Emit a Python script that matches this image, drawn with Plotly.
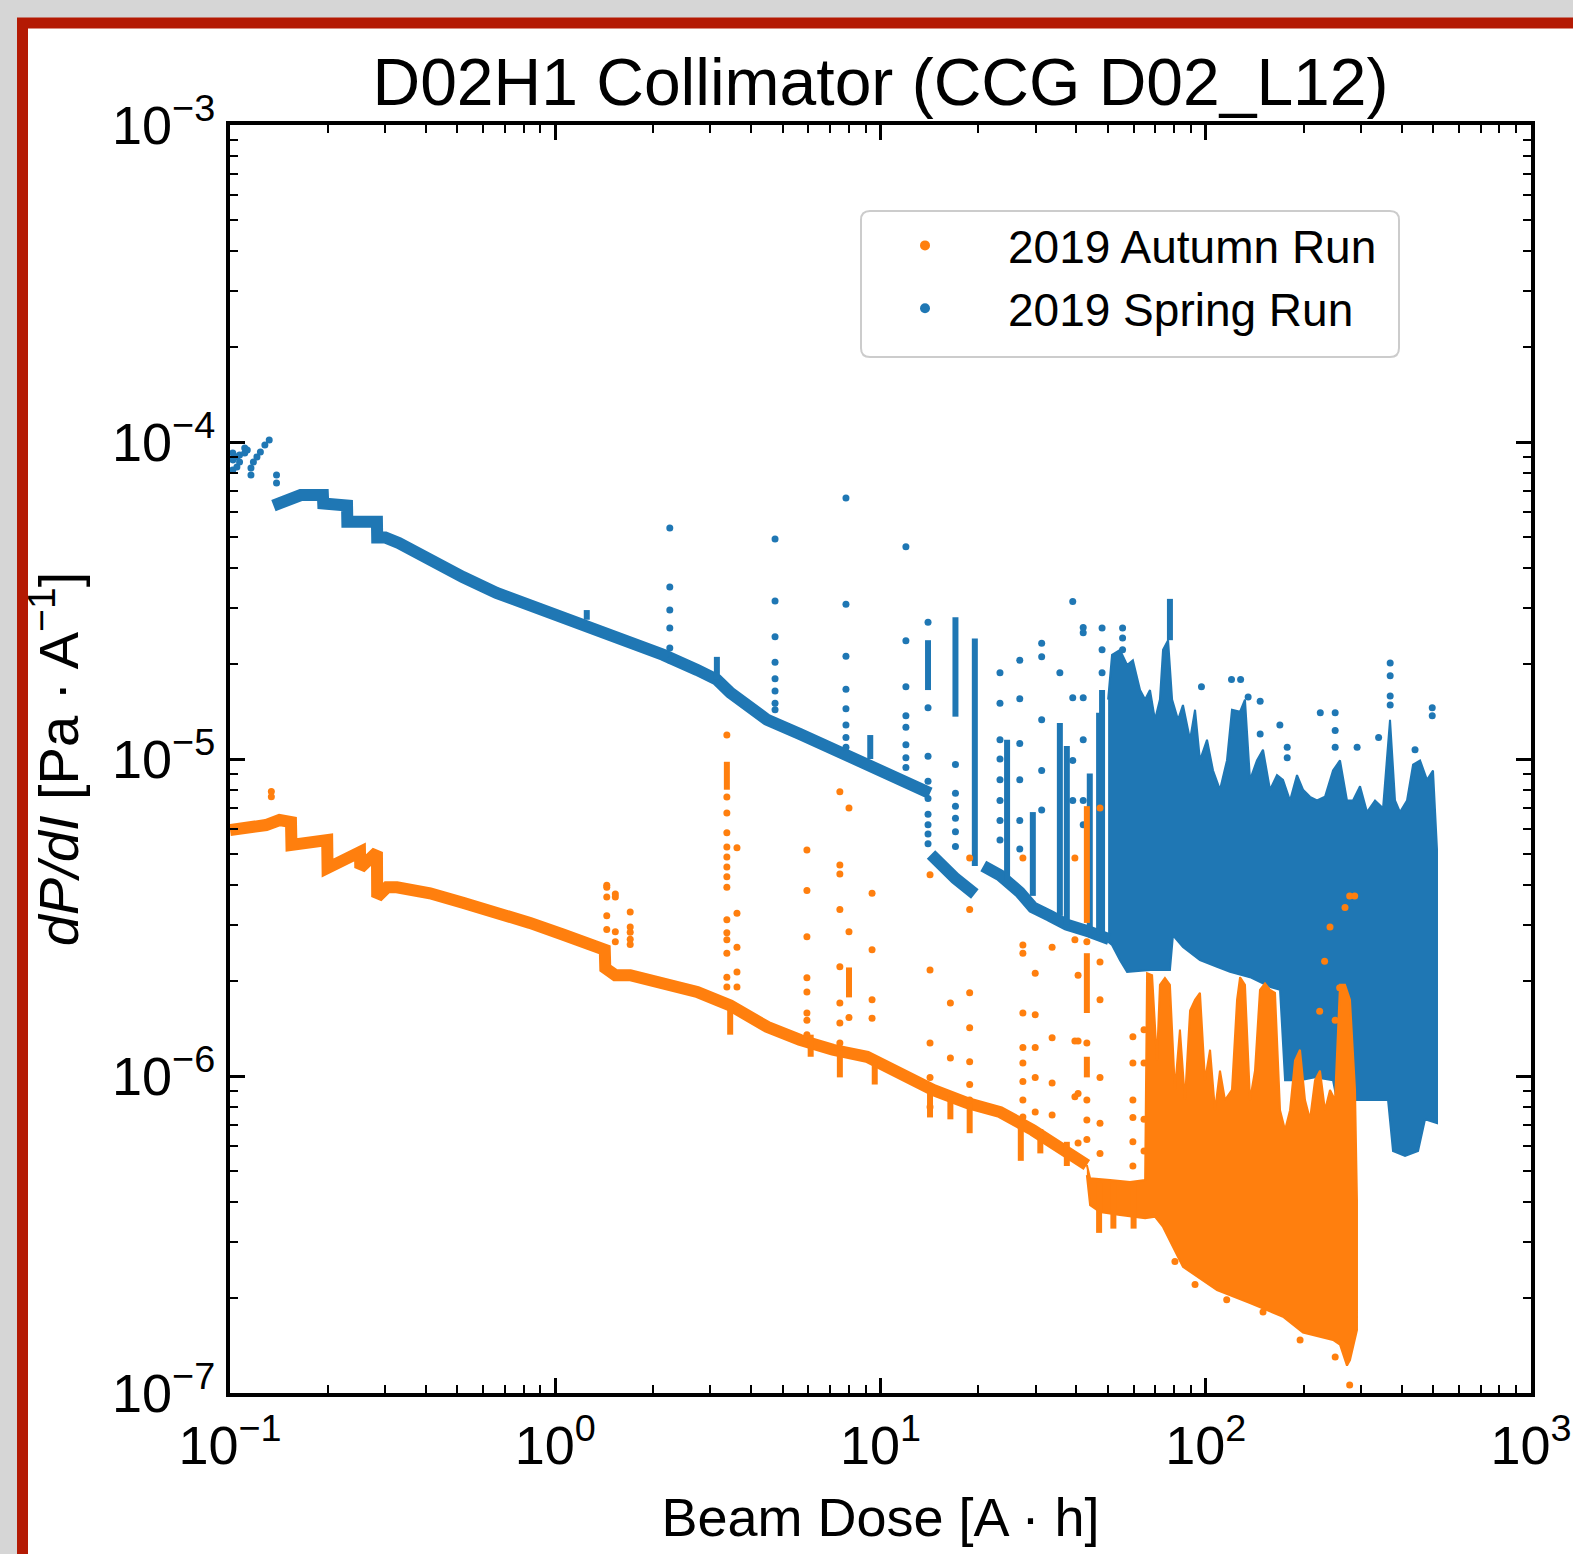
import plotly.graph_objects as go

# ---- data (x: beam dose A*h, y: dP/dI Pa/A) ----

# 2019 Spring Run (blue): continuous band, None = gap between pieces
spring_band_x = [0.136, 0.145, 0.153, 0.165, 0.18, 0.193, 0.1935, 0.21, 0.229, 0.2295, 0.25, 0.283,
                 0.2835, 0.30, 0.33, 0.41, 0.52, 0.66, 0.84, 1.06, 1.34, 1.70, 2.15, 2.73, 3.14, 3.45,
                 4.48, 5.65, 7.14, 9.1, 11.5, 14.2, None,
                 14.3, 15.5, 17.0, 19.5, None,
                 20.7, 23.3, 26.8, 29.4, 33.2, 37.4, 44.0, 50.5]
spring_band_y = [6.3e-5, 6.5e-5, 6.7e-5, 6.8e-5, 6.8e-5, 6.8e-5, 6.4e-5, 6.4e-5, 6.3e-5, 5.6e-5, 5.65e-5, 5.6e-5,
                 5.0e-5, 5.0e-5, 4.8e-5, 4.25e-5, 3.75e-5, 3.34e-5, 3.05e-5, 2.81e-5, 2.6e-5, 2.37e-5, 2.13e-5,
                 1.91e-5, 1.78e-5, 1.62e-5, 1.33e-5, 1.2e-5, 1.07e-5, 9.6e-6, 8.6e-6, 7.8e-6, None,
                 5.0e-6, 4.6e-6, 4.2e-6, 3.75e-6, None,
                 4.6e-6, 4.3e-6, 3.8e-6, 3.4e-6, 3.2e-6, 3.0e-6, 2.85e-6, 2.7e-6]

# dense spiky region of the spring run: upper envelope then lower envelope
spring_fill_x = [50.1, 51.5, 54.5, 57.3, 59.7, 62.8, 65.1, 67.4, 69.8, 72.3, 73.9, 76.6, 78.8, 82.2, 85.1, 89.5,
                 92.7, 96.0, 100.9, 105.3, 110.6, 116.2, 120.4, 127.5, 132.0, 136.8, 143.7, 150.0, 157.6, 165.6,
                 172.8, 181.6, 190.8, 199.1, 209.2, 219.8, 232.6, 246.2, 258.7, 271.8, 283.6, 298.1, 313.2, 331.5,
                 350.8, 368.6, 381.9, 395.6, 415.7, 433.9, 455.9, 478.9, 499.7, 514.0,
                 514.0, 472.3, 449.5, 410.0, 376.5, 363.4, 319.9, 287.7, 277.0, 258.7, 246.2, 216.7, 194.9, 175.3,
                 169.2, 157.6, 136.8, 118.7, 108.3, 96.0, 85.1, 79.3, 77.6, 67.4, 57.3, 54.5, 51.5, 50.1]
spring_fill_y = [1.54e-5, 2.13e-5, 2.21e-5, 1.98e-5, 2.05e-5, 1.65e-5, 1.54e-5, 1.65e-5, 1.33e-5, 1.54e-5, 2.21e-5,
                 2.37e-5, 1.54e-5, 1.33e-5, 1.48e-5, 1.15e-5, 1.43e-5, 9.9e-6, 1.15e-5, 9.2e-6, 8.0e-6, 9.9e-6,
                 1.43e-5, 1.41e-5, 1.54e-5, 8.6e-6, 9.9e-6, 1.07e-5, 8.0e-6, 8.9e-6, 8.6e-6, 7.4e-6, 8.9e-6, 8.0e-6,
                 7.6e-6, 7.4e-6, 7.6e-6, 9.2e-6, 9.9e-6, 7.4e-6, 7.4e-6, 8.2e-6, 6.8e-6, 7.4e-6, 7.0e-6, 1.33e-5,
                 7.4e-6, 6.8e-6, 7.4e-6, 9.6e-6, 9.9e-6, 8.6e-6, 9.2e-6, 5.2e-6,
                 7.1e-7, 7.3e-7, 5.8e-7, 5.6e-7, 5.8e-7, 8.4e-7, 8.4e-7, 8.4e-7, 7.6e-7, 7.5e-7, 9.7e-7, 9.9e-7,
                 9.7e-7, 9.7e-7, 1.87e-6, 1.91e-6, 2.05e-6, 2.13e-6, 2.21e-6, 2.32e-6, 2.55e-6, 2.78e-6, 2.16e-6,
                 2.16e-6, 2.13e-6, 2.32e-6, 2.59e-6, 2.65e-6]

# dense vertical runs of points
spring_seg_x = [1.25, 3.14, 9.3, 14.0, 17.0, 19.5, 24.5, 29.4, 35.6, 37.4, 44.0, 47.0, 48.0, 77.6]
spring_seg_lo = [2.75e-5, 1.78e-5, 1.0e-5, 1.65e-5, 1.36e-5, 4.6e-6, 4.15e-6, 3.7e-6, 3.2e-6, 3.0e-6, 2.9e-6,
                 2.8e-6, 2.8e-6, 2.37e-5]
spring_seg_hi = [2.95e-5, 2.1e-5, 1.19e-5, 2.37e-5, 2.8e-5, 2.4e-5, 1.15e-5, 6.8e-6, 1.3e-5, 1.1e-5, 9.0e-6,
                 1.4e-5, 1.65e-5, 3.2e-5]

# isolated points
spring_dot_x = [0.102, 0.102, 0.102, 0.105, 0.105, 0.107, 0.107, 0.111, 0.111, 0.113, 0.116, 0.116, 0.118,
                0.121, 0.124, 0.128, 0.132, 0.139, 0.139, 97, 120, 128, 135, 147, 147, 169, 178, 178, 225,
                250, 250, 250, 292, 340, 440, 497, 497]
spring_dot_y = [9.23e-5, 8.78e-5, 8.16e-5, 8.97e-5, 8.34e-5, 9.10e-5, 8.65e-5, 9.23e-5, 9.58e-5, 9.44e-5,
                8.28e-5, 7.87e-5, 8.65e-5, 8.97e-5, 9.30e-5, 9.78e-5, 1.015e-4, 7.87e-5, 7.43e-5, 1.69e-5,
                1.78e-5, 1.78e-5, 1.57e-5, 1.52e-5, 1.2e-5, 1.28e-5, 1.09e-5, 1.01e-5, 1.40e-5, 1.40e-5,
                1.23e-5, 1.09e-5, 1.09e-5, 1.17e-5, 1.07e-5, 1.45e-5, 1.37e-5]

# sparse dotted columns (spikes)
spring_col_x = [2.25, 4.74, 7.83, 11.97, 14.0, 17.0, 23.3, 26.8, 31.3, 35.6, 39.0, 42.0, 48.0, 55.5, 369.0]
spring_col_y = [
    [5.35e-5, 3.49e-5, 2.95e-5, 2.59e-5, 2.24e-5, 2.05e-5],
    [4.94e-5, 3.15e-5, 2.43e-5, 2.02e-5, 1.79e-5, 1.64e-5, 1.50e-5, 1.43e-5],
    [6.66e-5, 3.08e-5, 2.11e-5, 1.66e-5, 1.44e-5, 1.28e-5, 1.17e-5, 1.09e-5],
    [4.67e-5, 2.36e-5, 1.69e-5, 1.37e-5, 1.26e-5, 1.11e-5, 1.01e-5, 9.4e-6],
    [2.7e-5, 1.45e-5, 1.02e-5, 8.5e-6, 7.5e-6, 6.7e-6, 6.2e-6, 5.8e-6, 5.4e-6],
    [9.6e-6, 7.8e-6, 7.1e-6, 6.5e-6, 5.9e-6, 5.3e-6],
    [1.87e-5, 1.5e-5, 1.15e-5, 1.0e-5, 8.6e-6, 7.4e-6, 6.4e-6, 5.55e-6],
    [2.05e-5, 1.55e-5, 1.12e-5, 8.6e-6, 6.4e-6, 5.2e-6],
    [2.32e-5, 2.1e-5, 1.33e-5, 9.2e-6, 6.9e-6],
    [1.87e-5],
    [3.14e-5, 1.56e-5, 9.9e-6, 7.4e-6],
    [2.6e-5, 2.5e-5, 1.56e-5, 1.15e-5, 7.4e-6, 6.2e-6],
    [2.59e-5, 2.21e-5, 1.87e-5],
    [2.59e-5, 2.41e-5, 2.21e-5],
    [2.01e-5, 1.83e-5, 1.58e-5, 1.48e-5],
]

# 2019 Autumn Run (orange)
autumn_band_x = [0.1, 0.111, 0.125, 0.129, 0.142, 0.154, 0.1545, 0.176, 0.199, 0.1995, 0.226, 0.251,
                 0.2515, 0.283, 0.2835, 0.304, 0.326, 0.412, 0.52, 0.662, 0.836, 1.06, 1.34, 1.42,
                 1.425, 1.53, 1.70, 2.15, 2.73, 3.45, 4.48, 5.65, 7.14, 9.08, 11.5, 14.5, 18.5, 23.3, 29.4,
                 37.4, 43.1]
autumn_band_y = [5.97e-6, 6.06e-6, 6.28e-6, 6.19e-6, 6.42e-6, 6.33e-6, 5.36e-6, 5.43e-6, 5.55e-6, 4.53e-6,
                 4.80e-6, 5.09e-6, 4.53e-6, 5.09e-6, 3.67e-6, 3.94e-6, 3.94e-6, 3.77e-6, 3.52e-6, 3.29e-6,
                 3.04e-6, 2.79e-6, 2.57e-6, 2.50e-6, 2.19e-6, 2.08e-6, 2.08e-6, 1.96e-6, 1.84e-6, 1.67e-6,
                 1.43e-6, 1.30e-6, 1.21e-6, 1.15e-6, 1.02e-6, 9.04e-7, 8.22e-7, 7.7e-7, 6.75e-7, 5.84e-7, 5.24e-7]

# dense region of the autumn run (thick band from 43 A*h, then the spike forest)
autumn_fill_x = [43.1, 44.1, 50.8, 58.5, 65.1, 66.0, 68.4, 70.8, 72.3, 74.9, 77.6, 80.4, 83.3, 86.3, 89.5,
                 92.7, 96.0, 99.5, 103.1, 106.8, 110.6, 114.6, 120.4, 124.8, 127.5, 132.0, 136.8, 141.7, 146.8,
                 152.1, 157.6, 163.3, 169.2, 175.3, 181.6, 188.1, 194.9, 201.9, 209.2, 216.7, 224.5, 232.6,
                 241.0, 249.7, 258.7, 268.0, 277.6, 287.7, 291.7,
                 291.7, 277.6, 271.8, 258.7, 246.2, 199.1, 172.8, 136.8, 108.3, 85.1, 73.9, 69.8, 65.1,
                 54.5, 47.3, 44.1, 43.1]
autumn_fill_y = [5.24e-7, 4.76e-7, 4.70e-7, 4.63e-7, 4.70e-7, 2.11e-6, 2.08e-6, 1.12e-6, 1.94e-6, 2.04e-6,
                 1.94e-6, 9.04e-7, 1.40e-6, 8.4e-7, 1.61e-6, 1.74e-6, 1.83e-6, 9.7e-7, 1.21e-6, 7.8e-7, 1.04e-6,
                 8.4e-7, 9.04e-7, 1.74e-6, 2.05e-6, 1.94e-6, 8.4e-7, 1.04e-6, 1.87e-6, 1.96e-6, 1.87e-6, 1.83e-6,
                 7.8e-7, 6.75e-7, 7.8e-7, 1.12e-6, 1.21e-6, 8.4e-7, 7.3e-7, 9.7e-7, 1.04e-6, 7.8e-7, 9.04e-7,
                 8.4e-7, 1.94e-6, 1.94e-6, 1.74e-6, 9.04e-7, 4.06e-7,
                 1.58e-7, 1.27e-7, 1.22e-7, 1.42e-7, 1.47e-7, 1.55e-7, 1.74e-7, 1.92e-7, 2.11e-7, 2.50e-7,
                 3.34e-7, 3.6e-7, 3.56e-7, 3.64e-7, 3.72e-7, 3.91e-7, 4.87e-7]

autumn_seg_x = [3.37, 8.0, 43.1, 43.1, 43.1, 3.45, 6.1, 7.5, 9.6, 14.2, 16.4, 18.8, 27.0, 31.0, 37.4, 47.0,
                52.0, 60.0]
autumn_seg_lo = [8.0e-6, 1.77e-6, 3.04e-6, 1.58e-6, 9.9e-7, 1.35e-6, 1.15e-6, 9.9e-7, 9.4e-7, 7.4e-7, 7.3e-7,
                 6.6e-7, 5.4e-7, 5.7e-7, 5.2e-7, 3.2e-7, 3.3e-7, 3.3e-7]
autumn_seg_hi = [9.8e-6, 2.2e-6, 7.1e-6, 2.44e-6, 1.15e-6, 1.67e-6, 1.35e-6, 1.2e-6, 1.1e-6, 9.0e-7, 8.6e-7,
                 8.2e-7, 7.0e-7, 6.8e-7, 6.2e-7, 4.6e-7, 4.6e-7, 4.6e-7]

autumn_dot_x = [277, 287, 268, 241, 232, 258, 224, 250, 80.4, 92.7, 116, 150, 195, 250, 277]
autumn_dot_y = [3.7e-6, 3.7e-6, 3.4e-6, 2.95e-6, 2.3e-6, 1.9e-6, 1.6e-6, 1.5e-6, 2.6e-7, 2.2e-7, 1.97e-7,
                1.8e-7, 1.47e-7, 1.3e-7, 1.06e-7]

autumn_col_x = [0.134, 1.44, 1.53, 1.70, 3.37, 3.62, 5.94, 7.5, 8.0, 9.42, 14.2, 16.4, 18.8, 27.4, 29.9,
                33.7, 39.6, 40.5, 43.1, 47.3, 59.7, 64.6]
autumn_col_y = [
    [7.9e-6, 7.6e-6],
    [4.0e-6, 3.94e-6, 3.67e-6, 3.2e-6, 2.9e-6],
    [3.75e-6, 3.67e-6, 2.85e-6, 2.65e-6],
    [3.29e-6, 2.95e-6, 2.84e-6, 2.7e-6, 2.6e-6],
    [1.19e-5, 7.59e-6, 6.76e-6, 5.85e-6, 5.28e-6, 4.91e-6, 4.56e-6, 4.25e-6, 3.94e-6, 3.11e-6, 2.83e-6,
     2.69e-6, 2.44e-6, 2.05e-6, 1.91e-6],
    [5.25e-6, 3.26e-6, 2.55e-6, 2.13e-6, 1.91e-6],
    [5.16e-6, 3.85e-6, 2.75e-6, 2.04e-6, 1.84e-6, 1.58e-6, 1.5e-6, 1.35e-6],
    [7.88e-6, 4.63e-6, 4.34e-6, 3.35e-6, 2.21e-6, 1.7e-6, 1.47e-6, 1.27e-6],
    [7.0e-6, 2.85e-6, 1.53e-6],
    [3.77e-6, 2.5e-6, 1.74e-6, 1.52e-6],
    [4.31e-6, 2.16e-6, 1.27e-6, 9.9e-7, 7.98e-7],
    [1.7e-6, 1.14e-6],
    [4.87e-6, 3.35e-6, 1.83e-6, 1.42e-6, 1.11e-6, 9.4e-7, 8.4e-7],
    [4.87e-6, 2.59e-6, 2.44e-6, 1.58e-6, 1.23e-6, 1.1e-6, 9.6e-7, 8.4e-7, 7.43e-7],
    [2.11e-6, 1.56e-6, 1.23e-6, 9.9e-7, 7.7e-7],
    [2.55e-6, 1.32e-6, 9.5e-7, 7.53e-7],
    [4.87e-6, 2.69e-6, 1.29e-6, 8.6e-7],
    [2.08e-6, 1.29e-6, 8.8e-7, 6.15e-7],
    [2.65e-6, 1.27e-6, 8.4e-7, 7.26e-7, 6.3e-7],
    [7.0e-6, 2.29e-6, 1.74e-6, 9.9e-7, 7.1e-7, 5.7e-7],
    [1.33e-6, 1.1e-6, 8.4e-7, 7.4e-7, 6.2e-7, 5.2e-7],
    [1.4e-6, 1.1e-6, 7.3e-7, 5.8e-7],
]

x_tick_vals = [0.1, 1, 10, 100, 1000]
x_tick_text = ["10<sup>−1</sup>", "10<sup>0</sup>", "10<sup>1</sup>", "10<sup>2</sup>", "10<sup>3</sup>"]
y_tick_vals = [1e-7, 1e-6, 1e-5, 1e-4, 1e-3]
y_tick_text = ["10<sup>−7</sup>", "10<sup>−6</sup>", "10<sup>−5</sup>", "10<sup>−4</sup>", "10<sup>−3</sup>"]
x_minor = [m * 10.0 ** e for e in range(-1, 3) for m in range(2, 10)]
y_minor = [m * 10.0 ** e for e in range(-7, -3) for m in range(2, 10)]

BLUE = "#1f77b4"
ORANGE = "#ff7f0e"

W, H = 1573, 1554
L, R, T, B = 230, 1531, 125, 1393  # plot area in px


def px2paper(px, py):
    return (px - L) / (R - L), (B - py) / (B - T)


def segments(xs, lo, hi):
    sx, sy = [], []
    for a, b, c in zip(xs, lo, hi):
        sx += [a, a, None]
        sy += [b, c, None]
    return sx, sy


def columns(xs, ys):
    cx, cy = [], []
    for a, col in zip(xs, ys):
        cx += [a] * len(col)
        cy += col
    return cx, cy


def rounded_box(x0, y0, x1, y1, r):
    # path in paper coords for a rounded rectangle given in px
    def p(px, py):
        a, b = px2paper(px, py)
        return f"{a:.5f},{b:.5f}"
    return (f"M {p(x0 + r, y0)} L {p(x1 - r, y0)} Q {p(x1, y0)} {p(x1, y0 + r)} "
            f"L {p(x1, y1 - r)} Q {p(x1, y1)} {p(x1 - r, y1)} L {p(x0 + r, y1)} "
            f"Q {p(x0, y1)} {p(x0, y1 - r)} L {p(x0, y0 + r)} Q {p(x0, y0)} {p(x0 + r, y0)} Z")


fig = go.Figure()


def add_series(color, band_x, band_y, fill_x, fill_y, seg_x, seg_lo, seg_hi, dot_x, dot_y, col_x, col_y):
    fig.add_trace(go.Scatter(x=fill_x, y=fill_y, mode="lines", fill="toself", fillcolor=color,
                             line=dict(color=color, width=2), showlegend=False, hoverinfo="skip"))
    fig.add_trace(go.Scatter(x=band_x, y=band_y, mode="lines", line=dict(color=color, width=12),
                             connectgaps=False, showlegend=False, hoverinfo="skip"))
    sx, sy = segments(seg_x, seg_lo, seg_hi)
    fig.add_trace(go.Scatter(x=sx, y=sy, mode="lines", line=dict(color=color, width=6),
                             showlegend=False, hoverinfo="skip"))
    cx, cy = columns(col_x, col_y)
    fig.add_trace(go.Scatter(x=dot_x + cx, y=dot_y + cy, mode="markers",
                             marker=dict(color=color, size=7, line=dict(width=0)),
                             showlegend=False, hoverinfo="skip"))


add_series(BLUE, spring_band_x, spring_band_y, spring_fill_x, spring_fill_y, spring_seg_x, spring_seg_lo,
           spring_seg_hi, spring_dot_x, spring_dot_y, spring_col_x, spring_col_y)
add_series(ORANGE, autumn_band_x, autumn_band_y, autumn_fill_x, autumn_fill_y, autumn_seg_x, autumn_seg_lo,
           autumn_seg_hi, autumn_dot_x, autumn_dot_y, autumn_col_x, autumn_col_y)

# legend entries
fig.add_trace(go.Scatter(x=[None], y=[None], mode="markers", name="2019 Autumn Run",
                         marker=dict(color=ORANGE, size=10), legendrank=1))
fig.add_trace(go.Scatter(x=[None], y=[None], mode="markers", name="2019 Spring Run",
                         marker=dict(color=BLUE, size=10), legendrank=2))

fx0, fy1 = px2paper(22.5, 23)
fx1, fy0 = px2paper(1700, 1700)

axis_common = dict(
    type="log", showline=True, linecolor="black", linewidth=4, mirror="allticks",
    ticks="inside", ticklen=15, tickwidth=3, tickcolor="black",
    tickfont=dict(size=54), showgrid=False, zeroline=False, automargin=False,
)

fig.update_layout(
    template="none",
    width=W, height=H,
    margin=dict(l=L, r=W - R, t=T, b=H - B),
    paper_bgcolor="#d6d6d6",
    plot_bgcolor="white",
    font=dict(family="Liberation Sans, Arial, sans-serif", color="black"),
    title=dict(text="D02H1 Collimator (CCG D02_L12)", font=dict(size=66),
               x=0.5, xref="paper", xanchor="center", y=1 - 82 / H, yref="container", yanchor="middle"),
    xaxis=dict(axis_common, range=[-1, 3], tickvals=x_tick_vals, ticktext=x_tick_text, ticklabelstandoff=2,
               minor=dict(ticks="inside", ticklen=8, tickwidth=2, tickcolor="black", tickvals=x_minor, showgrid=False),
               title=dict(text="Beam Dose [A · h]", font=dict(size=54), standoff=25)),
    yaxis=dict(axis_common, range=[-7, -3], tickvals=y_tick_vals, ticktext=y_tick_text, ticklabelstandoff=0,
               minor=dict(ticks="inside", ticklen=8, tickwidth=2, tickcolor="black", tickvals=y_minor, showgrid=False),
               title=dict(text="<i>dP/dI</i> [Pa · A<sup>−1</sup>]", font=dict(size=56), standoff=16)),
    legend=dict(x=px2paper(842, 0)[0], xanchor="left", y=px2paper(0, 209)[1], yanchor="top",
                bgcolor="rgba(0,0,0,0)", borderwidth=0, font=dict(size=46), itemwidth=156,
                traceorder="normal"),
    shapes=[
        dict(type="rect", xref="paper", yref="paper", x0=fx0, x1=fx1, y0=fy0, y1=fy1,
             fillcolor="white", line=dict(color="#b41a04", width=11), layer="below"),
        dict(type="path", xref="paper", yref="paper", path=rounded_box(861, 211, 1399, 357, 9),
             fillcolor="white", line=dict(color="#cccccc", width=2), layer="below"),
    ],
)

# the page's default body margin would shift the figure by 8px
fig.write_html("out.html", config={"displayModeBar": False},
               post_script="document.body.style.margin = '0';")
